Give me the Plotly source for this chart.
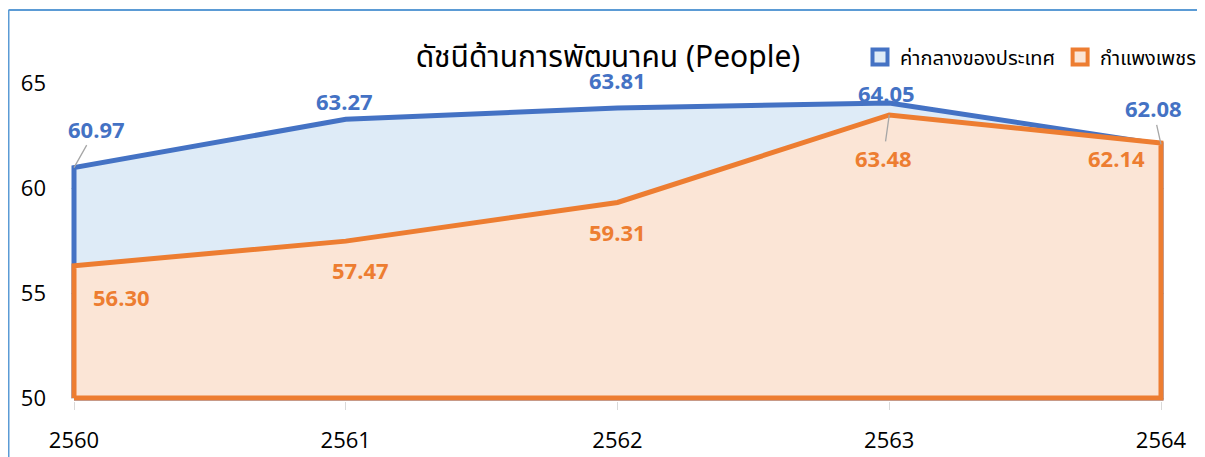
import plotly.graph_objects as go

years = [2560, 2561, 2562, 2563, 2564]
national = [60.97, 63.27, 63.81, 64.05, 62.08]
kamphaeng = [56.30, 57.47, 59.31, 63.48, 62.14]
series_names = ["ค่ากลางของประเทศ", "กำแพงเพชร"]
title_text = "ดัชนีด้านการพัฒนาคน (People)"
base = 50

BLUE = "#4472C4"
ORANGE = "#ED7D31"
BLUE_FILL = "rgb(222,235,247)"
ORANGE_FILL = "rgb(251,229,214)"
FONT = "Noto Sans Thai, Noto Sans, Open Sans, sans-serif"
NUMFONT = "Open Sans, Noto Sans, sans-serif"

# page body has an 8px margin: figure pixel = screen pixel - OFF
OFF = 8
W, H = 1205 - OFF, 457 - OFF

fig = go.Figure()
for name, vals, lc, fc in [(series_names[0], national, BLUE, BLUE_FILL),
                           (series_names[1], kamphaeng, ORANGE, ORANGE_FILL)]:
    xs = [years[0]] + years + [years[-1], years[0]]
    ys = [base] + vals + [base, base]
    fig.add_trace(go.Scatter(x=xs, y=ys, mode="lines", fill="toself",
                             fillcolor=fc, line=dict(color=lc, width=5),
                             name=name, hoverinfo="skip", showlegend=False))
    fig.add_trace(go.Scatter(x=[None], y=[None], mode="markers", name=name,
                             marker=dict(symbol="square", size=15, color=fc,
                                         line=dict(color=lc, width=4)),
                             showlegend=True))

# label offsets (pixels): (dx, dy, use_leader)
blue_off = [(22, -39, True), (-1, -18, False), (0, -28, False), (-3, -10, False), (-8, -36, True)]
orange_off = [(47, 31, False), (15, 29, False), (0, 30, False), (-6, 43, True), (-45, 15, False)]

for vals, offs, col in [(national, blue_off, BLUE), (kamphaeng, orange_off, ORANGE)]:
    for x, v, (dx, dy, lead) in zip(years, vals, offs):
        f = dict(family=NUMFONT, size=22, color=col)
        if lead:
            fig.add_annotation(x=x, y=v, xref="x", yref="y", text=f"<b>{v:.2f}</b>",
                               showarrow=True, arrowhead=0, arrowwidth=1.3,
                               arrowcolor="#A6A6A6", ax=dx, ay=dy, standoff=0,
                               font=f)
        else:
            fig.add_annotation(x=x, y=v, xref="x", yref="y", text=f"<b>{v:.2f}</b>",
                               showarrow=False, xshift=dx, yshift=-dy, font=f)

# screen-pixel layout targets
X0S, X1S, Y65S, Y50S = 74, 1161, 83, 398
ppu_y = (Y50S - Y65S) / 15.0
ppu_x = (X1S - X0S) / 4.0
pad = 3
L = X0S - OFF - pad
R = W - (X1S - OFF + pad)
T = Y65S - OFF
plot_h = (Y50S - Y65S) + pad
B = H - T - plot_h
plot_w = W - L - R
y0 = base - pad / ppu_y
xpad = pad / ppu_x

def sx(px):  # screen x -> paper
    return (px - OFF - L) / plot_w

def sy(py):  # screen y -> paper
    return (T + plot_h - (py - OFF)) / plot_h

border_col = "#5B9BD5"
fig.add_shape(type="line", xref="paper", yref="paper",
              x0=sx(8.5), x1=sx(1215), y0=sy(10), y1=sy(10),
              line=dict(color=border_col, width=2))
fig.add_shape(type="line", xref="paper", yref="paper",
              x0=sx(8.5), x1=sx(8.5), y0=sy(10), y1=sy(470),
              line=dict(color=border_col, width=2))

fig.update_layout(
    width=W, height=H,
    margin=dict(l=L, r=R, t=T, b=B, autoexpand=False),
    paper_bgcolor="white", plot_bgcolor="white",
    font=dict(family=FONT, color="black"),
    title=dict(text=title_text, xref="container", x=(608 - OFF) / W, xanchor="center",
               yref="container", y=1 - (56 - OFF) / H,
               yanchor="middle", font=dict(size=30, family=FONT, color="black")),
    legend=dict(orientation="h", xref="container", yref="container",
                x=(1202 - OFF) / W, xanchor="right",
                y=1 - (57 - OFF) / H, yanchor="middle",
                font=dict(size=20, family=FONT, color="black"),
                bgcolor="rgba(0,0,0,0)", itemwidth=30, tracegroupgap=0),
    showlegend=True,
    xaxis=dict(range=[years[0] - xpad, years[-1] + xpad], tickvals=years,
               ticktext=[str(y) for y in years], showgrid=False, zeroline=False,
               showline=False, ticks="outside", ticklen=8, tickcolor="#D9D9D9",
               tickfont=dict(size=22, family=NUMFONT, color="black"),
               ticklabelstandoff=12, automargin=False),
    yaxis=dict(range=[y0, 65], tickvals=[50, 55, 60, 65], showgrid=True,
               gridcolor="#D9D9D9", gridwidth=1.3, zeroline=False, showline=False,
               tickfont=dict(size=22, family=NUMFONT, color="black"),
               ticklabelstandoff=24, automargin=False),
)

fig.write_html("out.html")
